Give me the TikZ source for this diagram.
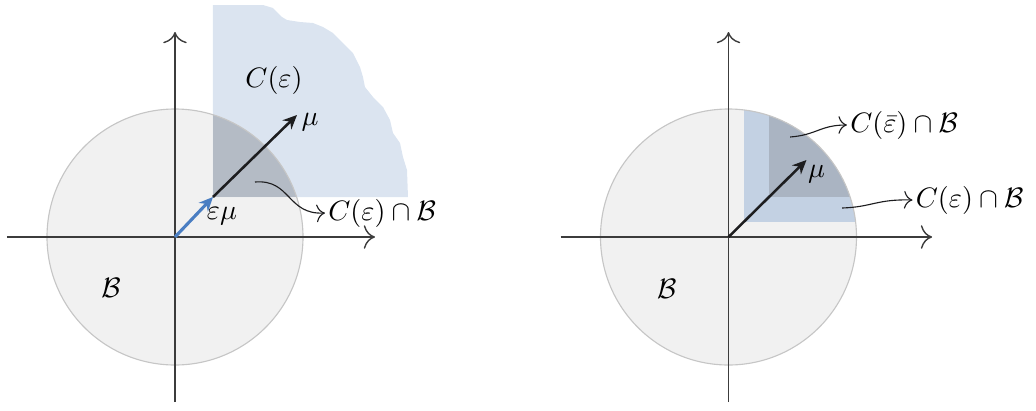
\documentclass[tikz,border=0pt]{standalone}
\usetikzlibrary{arrows.meta}
\definecolor{bola}{HTML}{F1F1F1}
\definecolor{borde}{HTML}{C6C6C6}
\definecolor{cono}{HTML}{DBE4F0}
\definecolor{conob}{HTML}{C3D1E3}
\definecolor{inter}{HTML}{B4BBC5}
\definecolor{interb}{HTML}{AAB4C2}
\definecolor{azul}{HTML}{4A7EC2}
\definecolor{tinta}{HTML}{1D1D1F}
\definecolor{ejes}{HTML}{3C3C3C}
\tikzset{
 eje/.style={ejes,line width=0.5pt,-{To[length=4pt]}},
 vec/.style={tinta,line width=0.9pt,-{Stealth[length=5pt,width=4.5pt]}},
 nota/.style={tinta,line width=0.4pt,-{To[length=3pt]}},
 etq/.style={anchor=west,inner sep=1pt},
}

\begin{document}
\begin{tikzpicture}
\useasboundingbox (-2.1875,-2.1625) rectangle (10.7625,2.9625);

\begin{scope}[scale=0.5]
\fill[bola] (0,0) circle (3.2);
\fill[cono] (0.95,1) -- (0.95,5.8) -- (2.2,5.8) -- (2.45,5.725) -- (2.675,5.5) -- (2.8,5.425) -- (3.125,5.375) -- (3.45,5.35) -- (3.7,5.25) -- (3.95,5.1) -- (4.2,4.85) -- (4.45,4.6) -- (4.625,4.25) -- (4.7,4.0) -- (4.75,3.75) -- (4.95,3.5) -- (5.2,3.25) -- (5.375,2.925) -- (5.45,2.6) -- (5.625,2.35) -- (5.7,2.0) -- (5.8,1.675) -- (5.825,1) -- cycle;
\begin{scope}\clip (0,0) circle (3.2);
 \fill[inter] (0.95,1) rectangle (3.3,3.3);
\end{scope}
\draw[borde,line width=0.4pt] (0,0) circle (3.2);
\coordinate (o1) at (0,0);
\coordinate (e1) at (0.95,1);
\coordinate (m1) at (3.05,3.05);
\coordinate (xa1) at (-4.2,0);
\coordinate (xb1) at (5,0);
\coordinate (ya1) at (0,-4.125);
\coordinate (yb1) at (0,5.125);
\draw[eje] (xa1) -- (xb1);
\draw[eje] (ya1) -- (yb1);
\draw[vec] (e1) -- (m1);
\draw[vec,azul,line width=1.1pt] (o1) -- (e1);
\node (ce1) at (2.475,3.925) {$C(\varepsilon)$};
\node (mu1) at (3.375,2.875) {$\mu$};
\node (em1) at (1.175,0.525) {$\varepsilon\mu$};
\node (b1) at (-1.6,-1.275) {$\mathcal{B}$};
\coordinate (p1) at (2.0,1.375);
\node[etq] (cb1) at (3.75,0.6) {$C(\varepsilon)\cap\mathcal{B}$};
\draw[nota] (p1) .. controls (2.9,1.45) and (2.8,0.55) .. (cb1.west);
\end{scope}

\begin{scope}[xshift=6.91875cm,scale=0.5]
\fill[bola] (0,0) circle (3.2);
\begin{scope}\clip (0,0) circle (3.2);
 \fill[conob] (0.375,0.375) rectangle (3.3,3.3);
 \fill[interb] (1,1) rectangle (3.3,3.3);
\end{scope}
\draw[borde,line width=0.4pt] (0,0) circle (3.2);
\coordinate (o2) at (0,0);
\coordinate (m2) at (1.95,1.925);
\coordinate (xa2) at (-4.2,0);
\coordinate (xb2) at (5.09,0);
\coordinate (ya2) at (0,-4.125);
\coordinate (yb2) at (0,5.125);
\draw[eje] (xa2) -- (xb2);
\draw[eje] (ya2) -- (yb2);
\draw[vec] (o2) -- (m2);
\node (mu2) at (2.2,1.575) {$\mu$};
\node (b2) at (-1.54,-1.3) {$\mathcal{B}$};
\coordinate (q1) at (1.54,2.5);
\coordinate (q2) at (2.84,0.725);
\node[etq] (cb2) at (2.96,2.8) {$C(\bar{\varepsilon})\cap\mathcal{B}$};
\node[etq] (cb3) at (4.6,0.925) {$C(\varepsilon)\cap\mathcal{B}$};
\draw[nota] (q1) .. controls (2.2,2.55) and (2.3,2.8) .. (cb2.west);
\draw[nota] (q2) .. controls (3.6,0.75) and (3.7,0.95) .. (cb3.west);
\end{scope}

\end{tikzpicture}
\end{document}
